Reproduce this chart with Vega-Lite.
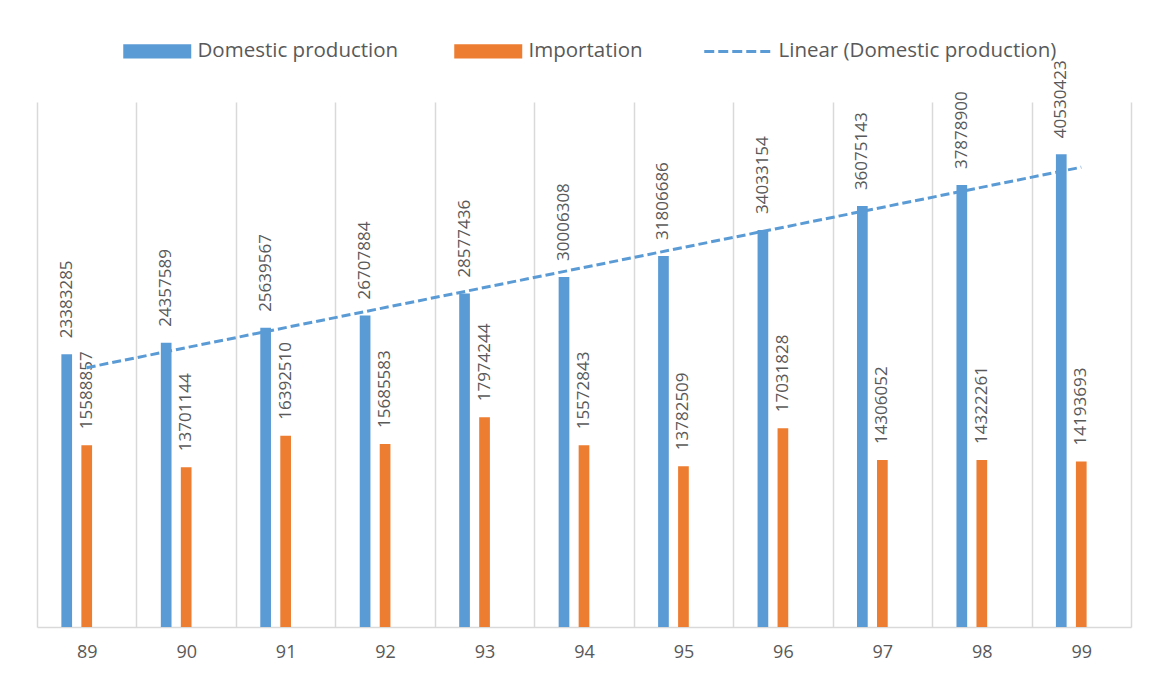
{
  "$schema": "https://vega.github.io/schema/vega-lite/v6.json",
  "width": 1094,
  "height": 525,
  "autosize": {"type": "none"},
  "padding": {"left": 37, "top": 102, "right": 19, "bottom": 51},
  "background": "white",
  "config": {
    "view": {"stroke": null},
    "font": "Open Sans"
  },
  "data": {
    "values": [
      {"year": 89, "series": "Domestic production", "value": 23383285},
      {"year": 90, "series": "Domestic production", "value": 24357589},
      {"year": 91, "series": "Domestic production", "value": 25639567},
      {"year": 92, "series": "Domestic production", "value": 26707884},
      {"year": 93, "series": "Domestic production", "value": 28577436},
      {"year": 94, "series": "Domestic production", "value": 30006308},
      {"year": 95, "series": "Domestic production", "value": 31806686},
      {"year": 96, "series": "Domestic production", "value": 34033154},
      {"year": 97, "series": "Domestic production", "value": 36075143},
      {"year": 98, "series": "Domestic production", "value": 37878900},
      {"year": 99, "series": "Domestic production", "value": 40530423},
      {"year": 89, "series": "Importation", "value": 15588857},
      {"year": 90, "series": "Importation", "value": 13701144},
      {"year": 91, "series": "Importation", "value": 16392510},
      {"year": 92, "series": "Importation", "value": 15685583},
      {"year": 93, "series": "Importation", "value": 17974244},
      {"year": 94, "series": "Importation", "value": 15572843},
      {"year": 95, "series": "Importation", "value": 13782509},
      {"year": 96, "series": "Importation", "value": 17031828},
      {"year": 97, "series": "Importation", "value": 14306052},
      {"year": 98, "series": "Importation", "value": 14322261},
      {"year": 99, "series": "Importation", "value": 14193693}
    ]
  },
  "layer": [
    {
      "mark": {"type": "bar"},
      "encoding": {
        "x": {
          "field": "year", "type": "ordinal",
          "scale": {"paddingInner": 0, "paddingOuter": 0},
          "axis": {
            "title": null, "labelAngle": 0, "tickBand": "extent", "ticks": false,
            "grid": true, "gridColor": "#d9d9d9", "gridWidth": 1.5,
            "domainColor": "#d9d9d9", "domainWidth": 1.5,
            "labelFontSize": 18, "labelColor": "#595959", "labelPadding": 16,
            "labelFont": "Open Sans"
          }
        },
        "xOffset": {
          "field": "series",
          "scale": {"domain": ["_a", "Domestic production", "Importation", "_b", "_c"], "paddingInner": 0.465, "paddingOuter": 0.219}
        },
        "y": {"field": "value", "type": "quantitative", "scale": {"domain": [0, 45000000]}, "axis": null},
        "color": {
          "field": "series", "type": "nominal",
          "scale": {
            "domain": ["Domestic production", "Importation", "Linear (Domestic production)"],
            "range": ["#5B9BD5", "#ED7D31", "#5B9BD5"]
          },
          "legend": {
            "title": null,
            "orient": "none",
            "legendX": 110,
            "legendY": -61,
            "direction": "horizontal",
            "symbolSize": 4624,
            "labelFontSize": 20.5,
            "labelColor": "#595959",
            "labelFont": "Open Sans",
            "labelOffset": 30,
            "columnPadding": 55,
            "labelLimit": 400,
            "encode": {
              "symbols": {
                "update": {
                  "shape": {"signal": "datum.value === 'Linear (Domestic production)' ? 'stroke' : 'M-1,-0.206H1V0.206H-1Z'"},
                  "fill": {"signal": "datum.value === 'Linear (Domestic production)' ? 'transparent' : scale('color', datum.value)"},
                  "stroke": {"signal": "scale('color', datum.value)"},
                  "strokeWidth": {"signal": "datum.value === 'Linear (Domestic production)' ? 3 : 0"},
                  "strokeDash": {"signal": "datum.value === 'Linear (Domestic production)' ? [10, 4] : [1, 0]"},
                  "opacity": {"value": 1}
                }
              }
            }
          }
        }
      }
    },
    {
      "mark": {"type": "text", "angle": -90, "align": "left", "baseline": "middle", "dx": 16, "fontSize": 17, "color": "#595959", "font": "Open Sans"},
      "encoding": {
        "x": {"field": "year", "type": "ordinal"},
        "xOffset": {"field": "series"},
        "y": {"field": "value", "type": "quantitative"},
        "text": {"field": "value", "type": "quantitative", "format": "d"}
      }
    },
    {
      "transform": [
        {"filter": "datum.series === 'Domestic production'"},
        {"regression": "value", "on": "year"}
      ],
      "mark": {"type": "line", "strokeDash": [9, 4], "strokeWidth": 3},
      "encoding": {
        "x": {"field": "year", "type": "ordinal"},
        "y": {"field": "value", "type": "quantitative"},
        "color": {"datum": "Linear (Domestic production)"}
      }
    }
  ]
}
